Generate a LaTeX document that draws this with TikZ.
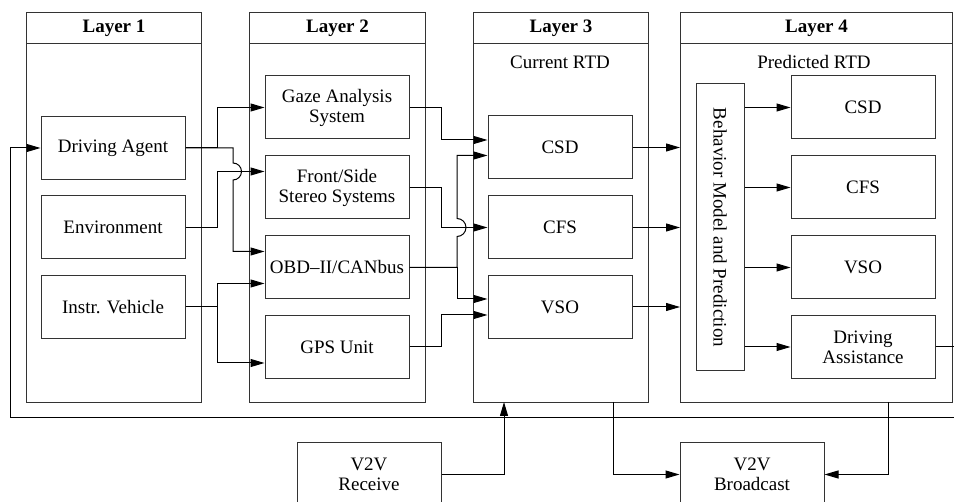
\documentclass[tikz,border=0pt]{standalone}
\usepackage{fontspec}
\setmainfont{Liberation Serif}
\usetikzlibrary{arrows.meta,calc}

\begin{document}
\begin{tikzpicture}[x=1pt,y=1pt,
  every node/.style={font=\fontsize{19}{20}\selectfont, align=center, inner sep=0pt},
  layer/.style={draw=black!80, line width=1pt, minimum height=390pt, anchor=north west},
  head/.style={draw=black!80, line width=1pt, minimum height=31pt, anchor=north, font=\fontsize{19}{20}\selectfont\bfseries},
  blk/.style={draw=black!80, line width=1pt, minimum width=144pt, minimum height=63pt},
  lbl/.style={},
  arr/.style={line width=1pt, -{Triangle[length=14pt,width=8pt]}},
  ln/.style={line width=1pt}
]
\useasboundingbox (0,0) rectangle (954,-502);
\begin{scope}
\clip (0,0) rectangle (954,-502);

% layer frames with headers
\node[layer, minimum width=175pt] (l1) at (26,-12) {};
\node[head, minimum width=175pt] (h1) at (l1.north) {Layer 1};
\node[layer, minimum width=176pt] (l2) at (249,-12) {};
\node[head, minimum width=176pt] (h2) at (l2.north) {Layer 2};
\node[layer, minimum width=175pt] (l3) at (473,-12) {};
\node[head, minimum width=175pt] (h3) at (l3.north) {Layer 3};
\node[layer, minimum width=272pt] (l4) at (680,-12) {};
\node[head, minimum width=272pt] (h4) at (l4.north) {Layer 4};

\node[lbl] (cur) at (560,-62) {Current RTD};
\node[lbl] (pred) at (814,-62) {Predicted RTD};

% layer 1
\node[blk] (da)  at (113,-148)   {Driving Agent};
\node[blk] (env) at (113,-227.5) {Environment};
\node[blk] (iv)  at (113,-307)   {Instr. Vehicle};

% layer 2
\node[blk] (gaze) at (337,-107.5) {Gaze Analysis\\System};
\node[blk] (fs)   at (337,-187.5) {Front/Side\\Stereo Systems};
\node[blk] (obd)  at (337,-267.5) {OBD--II/CANbus};
\node[blk] (gps)  at (337,-347)   {GPS Unit};

% layer 3
\node[blk] (csd) at (560,-147.5) {CSD};
\node[blk] (cfs) at (560,-227.5) {CFS};
\node[blk] (vso) at (560,-307)   {VSO};

% layer 4
\node[draw=black!80, line width=1pt, minimum width=48pt, minimum height=287pt] (bm) at (720,-227.5)
  {\rotatebox{-90}{Behavior Model and Prediction}};
\node[blk] (csdp) at (863,-107.5) {CSD};
\node[blk] (cfsp) at (863,-187.5) {CFS};
\node[blk] (vsop) at (863,-267.5) {VSO};
\node[blk] (dass) at (863,-347)   {Driving\\Assistance};

% V2V units
\node[blk] (rcv) at (369,-474.5) {V2V\\Receive};
\node[blk] (bc)  at (752,-474.5) {V2V\\Broadcast};

% layer 1 -> layer 2
\draw[arr] (da.east) -- (217,-148) |- (gaze.west);
\draw[arr] (da.east) -- (233,-148) -- (233,-163)
  arc[start angle=90, end angle=-90, radius=8.5] -- (233,-251.5) -- ($(obd.west)+(0,16)$);
\draw[arr] (env.east) -- (217,-227.5) |- ($(fs.west)+(0,16)$);
\draw[arr] (iv.east) -- (217,-307) |- ($(obd.west)+(0,-16)$);
\draw[arr] (iv.east) -- (217,-307) |- ($(gps.west)+(0,-16)$);

% layer 2 -> layer 3
\draw[arr] (gaze.east) -- (441,-107.5) |- ($(csd.west)+(0,7.5)$);
\draw[arr] (fs.east) -- (441,-187.5) |- (cfs.west);
\draw[arr] (obd.east) -- (457,-267.5) -- (457,-236.5)
  arc[start angle=-90, end angle=90, radius=9] -- (457,-155.5) -- ($(csd.west)+(0,-8)$);
\draw[arr] (obd.east) -- (457,-267.5) |- ($(vso.west)+(0,8)$);
\draw[arr] (gps.east) -- (441,-347) |- ($(vso.west)+(0,-8)$);

% layer 3 -> layer 4
\draw[arr] (csd.east) -- (csd.east -| l4.west);
\draw[arr] (cfs.east) -- (cfs.east -| l4.west);
\draw[arr] (vso.east) -- (vso.east -| l4.west);

% behaviour model -> predicted quantities
\draw[arr] (bm.east |- csdp.west) -- (csdp.west);
\draw[arr] (bm.east |- cfsp.west) -- (cfsp.west);
\draw[arr] (bm.east |- vsop.west) -- (vsop.west);
\draw[arr] (bm.east |- dass.west) -- (dass.west);

% feedback loop to the driver
\coordinate (fbr) at (975,-347);
\draw[arr] (dass.east) -- (fbr) -- (975,-418) -- (10,-418) |- (da.west);

% V2V links
\coordinate (l3in) at (504,-402);
\coordinate (l3out) at (613,-402);
\coordinate (l4out) at (888,-402);
\draw[arr] (rcv.east) -| (l3in);
\draw[arr] (l3out) |- (bc.west);
\draw[arr] (l4out) |- (bc.east);
\end{scope}
\end{tikzpicture}
\end{document}
